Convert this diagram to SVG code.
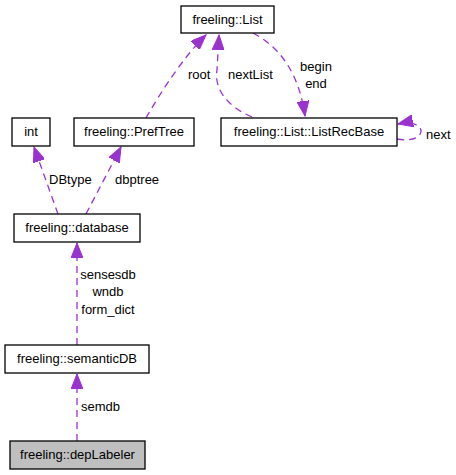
<svg xmlns="http://www.w3.org/2000/svg" width="456" height="475" viewBox="0 0 456 475">
<style>
text{font-family:"Liberation Sans",Arial,sans-serif;font-size:13px;fill:#000}
.n rect{fill:#fff;stroke:#000;stroke-width:1.3}
.n text{text-anchor:middle}
.e path{fill:none;stroke:#9a32cd;stroke-width:1.3;stroke-dasharray:7,5;marker-end:url(#ah)}
</style>
<defs>
<marker id="ah" markerUnits="userSpaceOnUse" markerWidth="16" markerHeight="12" viewBox="0 0 16 12" refX="15" refY="6" orient="auto">
<path d="M0,0 L15,6 L0,12 z" fill="#9a32cd" stroke="#9a32cd"/>
</marker>
</defs>
<rect width="456" height="475" fill="#fff"/>
<g id="edges" class="e">
<path d="M77,441 L77,374"/>
<path d="M77,345 L77,243"/>
<path d="M58,214 L34,147"/>
<path d="M86,214 L121,147"/>
<path d="M146,118 C162,90 185,55 206,35"/>
<path d="M252,117 C226,106 214,88 217,70 L219,35"/>
<path d="M253,33 C285,50 300,80 305,116"/>
<path d="M397,139 C412,142 421,137 421,131 C421,125 412,121 398,124"/>
<text x="81" y="411">semdb</text>
<text x="108" y="279" text-anchor="middle">sensesdb</text>
<text x="108" y="296" text-anchor="middle">wndb</text>
<text x="108" y="314" text-anchor="middle">form_dict</text>
<text x="49" y="184">DBtype</text>
<text x="115" y="184">dbptree</text>
<text x="188" y="79">root</text>
<text x="228" y="79">nextList</text>
<text x="316" y="71" text-anchor="middle">begin</text>
<text x="316" y="88" text-anchor="middle">end</text>
<text x="426" y="139">next</text>
</g>
<g id="list" class="n"><rect x="181" y="6" width="93" height="27"/><text x="227.5" y="24">freeling::List</text></g>
<g id="listrecbase" class="n"><rect x="221" y="118" width="176" height="28"/><text x="309" y="136">freeling::List::ListRecBase</text></g>
<g id="preftree" class="n"><rect x="74" y="118" width="120" height="28"/><text x="134" y="136">freeling::PrefTree</text></g>
<g id="int" class="n"><rect x="12" y="118" width="38" height="28"/><text x="31" y="136">int</text></g>
<g id="database" class="n"><rect x="14" y="214" width="126" height="28"/><text x="77" y="232">freeling::database</text></g>
<g id="semanticdb" class="n"><rect x="5" y="345" width="144" height="28"/><text x="77" y="363">freeling::semanticDB</text></g>
<g id="deplabeler" class="n"><rect x="10" y="441" width="135" height="28" style="fill:#bfbfbf"/><text x="77.5" y="459">freeling::depLabeler</text></g>
</svg>
